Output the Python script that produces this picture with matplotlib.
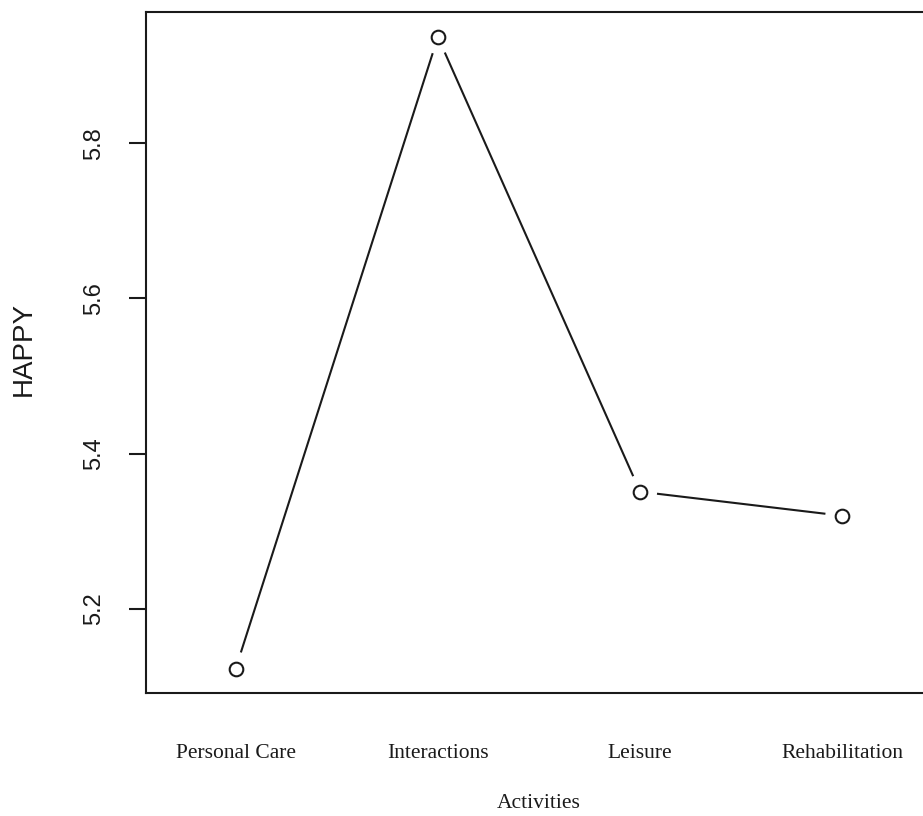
import numpy as np
import matplotlib
matplotlib.use("Agg")
import matplotlib.pyplot as plt

# Mean HAPPY score per activity category
activities = ["Personal Care", "Interactions", "Leisure", "Rehabilitation"]
happy = [5.123, 5.937, 5.351, 5.320]
yticks = [5.2, 5.4, 5.6, 5.8]

W, H = 923, 816
fig = plt.figure(figsize=(W / 100, H / 100), dpi=100)
fig.patch.set_facecolor("white")

# axes frame (right edge runs just past the canvas)
left_px, right_px, top_px, bot_px = 145.5, 932.5, 11.7, 693.0
ax = fig.add_axes([left_px / W, 1 - bot_px / H,
                   (right_px - left_px) / W, (bot_px - top_px) / H])

x = np.arange(1, len(activities) + 1)
ax.set_xlim(0.554, 4.446)
ax.set_ylim(5.0916, 5.9696)

ink = "#1a1a1a"
for s in ax.spines.values():
    s.set_linewidth(1.5)
    s.set_color(ink)

# open circle markers
ax.plot(x, happy, linestyle="none", marker="o", markersize=9.8,
        markerfacecolor="white", markeredgecolor=ink, markeredgewidth=1.5,
        zorder=3, clip_on=False)

# connecting segments that stop short of each marker
fig.canvas.draw()
pts = ax.transData.transform(np.column_stack([x, happy]))
gap = 17.0
inv = ax.transData.inverted()
for (p0, p1) in zip(pts[:-1], pts[1:]):
    d = p1 - p0
    u = d / np.hypot(*d)
    a = inv.transform(p0 + u * gap)
    b = inv.transform(p1 - u * gap)
    ax.plot([a[0], b[0]], [a[1], b[1]], color=ink, linewidth=1.5,
            solid_capstyle="butt", zorder=2, clip_on=False)

# y axis: sans-serif ticks, rotated labels
ax.set_yticks(yticks)
ax.set_yticklabels([f"{v:.1f}" for v in yticks], rotation=90, va="center",
                   fontfamily="Liberation Sans", fontsize=17, color=ink)
ax.tick_params(axis="y", length=12.2, width=1.5, pad=17, color=ink)

# x axis: serif category labels, no tick marks
ax.set_xticks(x)
ax.set_xticklabels(activities, fontfamily="Liberation Serif", fontsize=15.5,
                   color=ink)
ax.tick_params(axis="x", length=0, pad=37)

fig.text(24 / W, 1 - 349 / H, "HAPPY", rotation=90,
         ha="center", va="center", fontfamily="Liberation Sans", fontsize=20,
         color=ink)
fig.text(((left_px + right_px) / 2) / W, 1 - 803 / H, "Activities",
         ha="center", va="center", fontfamily="Liberation Serif",
         fontsize=15.5, color=ink)

fig.savefig("out.png", dpi=100, facecolor="white")
